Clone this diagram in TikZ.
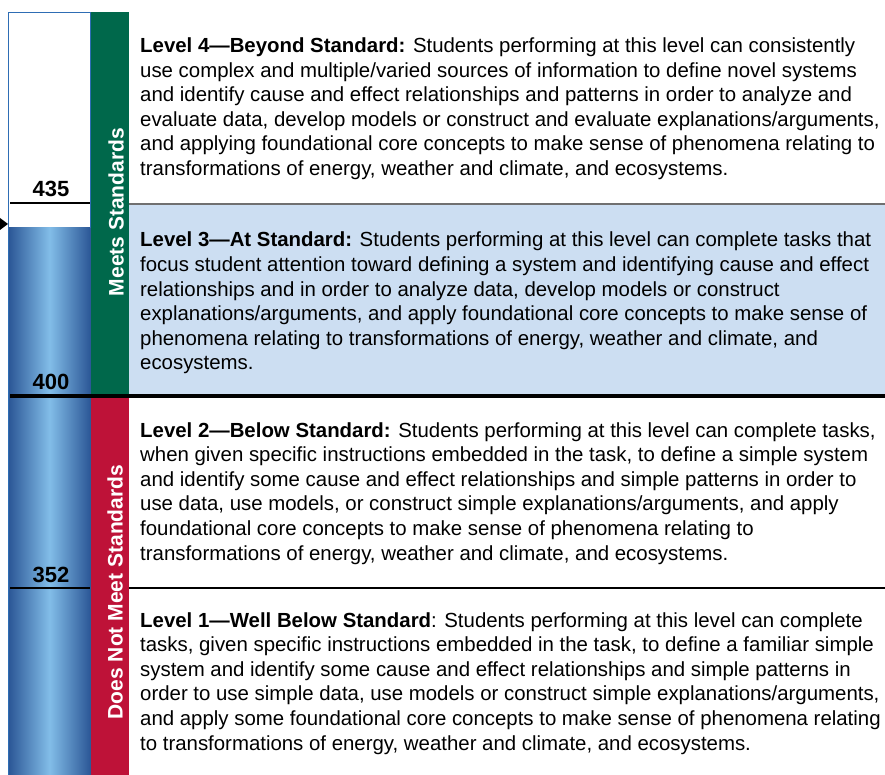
\documentclass[tikz,border=0pt]{standalone}
\usepackage{fontspec}
\setmainfont{Liberation Sans}
\definecolor{bandgreen}{HTML}{00684B}
\definecolor{bandred}{HTML}{BE1238}
\definecolor{lvlblue}{HTML}{CCDEF2}
\definecolor{bardark}{HTML}{2A5595}
\definecolor{barlight}{HTML}{82BDE8}
\definecolor{barborder}{HTML}{2E6DB4}
\definecolor{sepgray}{HTML}{707070}
\newcommand{\lvlpara}[1]{\parbox[t]{780pt}{\setlength{\baselineskip}{24.6pt}#1\par}}
\tikzset{
  bodytext/.style={anchor=base west, inner sep=0pt, font=\fontsize{20.4}{24.6}\selectfont},
  scorelabel/.style={anchor=base, inner sep=0pt, font=\fontsize{22}{26}\selectfont\bfseries},
  bandlabel/.style={rotate=90, inner sep=0pt, text=white, font=\fontsize{21}{25}\selectfont\bfseries},
  cutline/.style={line width=2pt, black},
}
\begin{document}
\begin{tikzpicture}[x=1pt,y=-1pt]
\useasboundingbox (0,0) rectangle (885,775);
\fill[white] (0,0) rectangle (885,775);
% level 3 background
\fill[lvlblue] (129,204) rectangle (885,396);
\draw[sepgray, line width=2pt] (129,204) -- (885,204);
% score bar
\shade[left color=bardark, right color=bardark, middle color=barlight] (8,228) rectangle (91,775);
\draw[barborder, line width=1pt] (8.5,775) -- (8.5,12.5) -- (90.5,12.5) -- (90.5,228);
% bands
\fill[bandgreen] (91,12) rectangle (129,396);
\fill[bandred] (91,396) rectangle (129,775);
% cut lines
\coordinate (c435a) at (10,203); \coordinate (c435b) at (90,203);
\coordinate (c352a) at (10,588); \coordinate (c352b) at (90,588);
\coordinate (t352a) at (129,588); \coordinate (t352b) at (885,588);
\coordinate (c400a) at (10,396); \coordinate (c400b) at (885,396);
\draw[cutline] (c435a) -- (c435b);
\draw[cutline] (c352a) -- (c352b);
\draw[cutline] (t352a) -- (t352b);
\draw[black, line width=4pt] (c400a) -- (c400b);
% arrow marker
\fill[black] (0,218) -- (8,224) -- (0,230) -- cycle;
% score labels
\node[scorelabel] (s435) at (51,197) {435};
\node[scorelabel] (s400) at (51,389) {400};
\node[scorelabel] (s352) at (51,582) {352};
% band labels
\node[bandlabel] (meets) at (116,212) {Meets Standards};
\node[bandlabel] (notmeet) at (115,592) {Does Not Meet Standards};
% level texts
\node[bodytext] (lv4) at (140,52.5) {\lvlpara{%
\textbf{Level 4—Beyond Standard:} Students performing at this level can consistently\\
use complex and multiple/varied sources of information to define novel systems\\
and identify cause and effect relationships and patterns in order to analyze and\\
evaluate data, develop models or construct and evaluate explanations/arguments,\\
and applying foundational core concepts to make sense of phenomena relating to\\
transformations of energy, weather and climate, and ecosystems.}};
\node[bodytext] (lv3) at (140,247) {\lvlpara{%
\textbf{Level 3—At Standard:} Students performing at this level can complete tasks that\\
focus student attention toward defining a system and identifying cause and effect\\
relationships and in order to analyze data, develop models or construct\\
explanations/arguments, and apply foundational core concepts to make sense of\\
phenomena relating to transformations of energy, weather and climate, and\\
ecosystems.}};
\node[bodytext] (lv2) at (140,437) {\lvlpara{%
\textbf{Level 2—Below Standard:} Students performing at this level can complete tasks,\\
when given specific instructions embedded in the task, to define a simple system\\
and identify some cause and effect relationships and simple patterns in order to\\
use data, use models, or construct simple explanations/arguments, and apply\\
foundational core concepts to make sense of phenomena relating to\\
transformations of energy, weather and climate, and ecosystems.}};
\node[bodytext] (lv1) at (140,627) {\lvlpara{%
\textbf{Level 1—Well Below Standard}: Students performing at this level can complete\\
tasks, given specific instructions embedded in the task, to define a familiar simple\\
system and identify some cause and effect relationships and simple patterns in\\
order to use simple data, use models or construct simple explanations/arguments,\\
and apply some foundational core concepts to make sense of phenomena relating\\
to transformations of energy, weather and climate, and ecosystems.}};
\end{tikzpicture}
\end{document}
